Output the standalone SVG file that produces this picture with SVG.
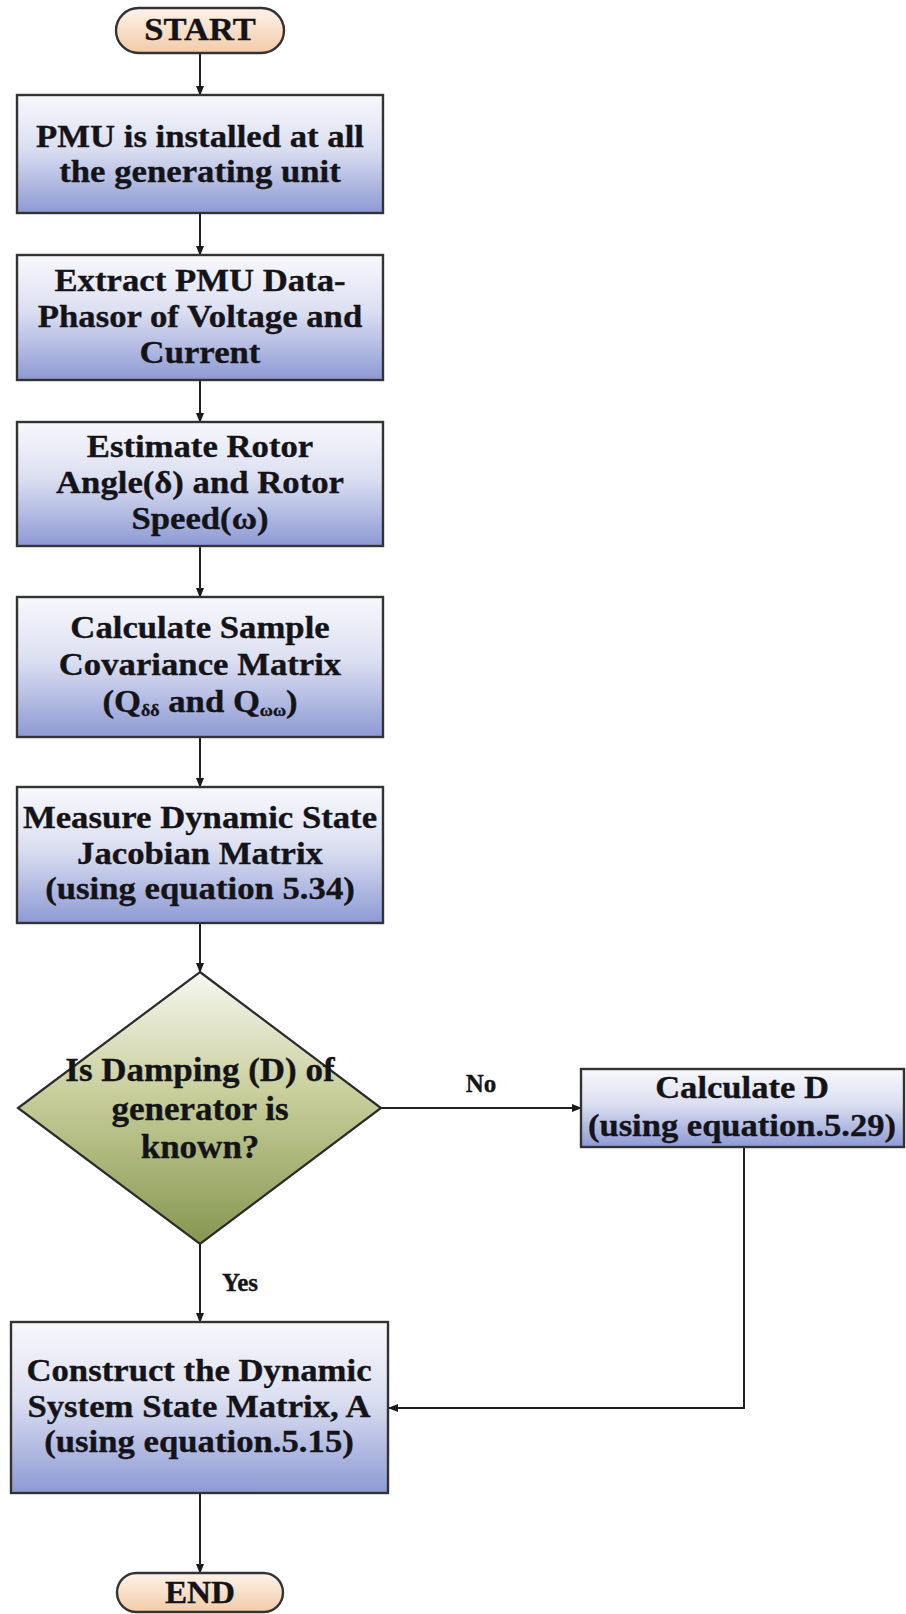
<svg xmlns="http://www.w3.org/2000/svg" width="906" height="1614" viewBox="0 0 906 1614">
  <defs>
    <linearGradient id="gBox" x1="0" y1="0" x2="0" y2="1">
      <stop offset="0" stop-color="#f8f8fc"/>
      <stop offset="0.45" stop-color="#dcdff1"/>
      <stop offset="1" stop-color="#8d9ad4"/>
    </linearGradient>
    <linearGradient id="gPill" x1="0" y1="0" x2="0" y2="1">
      <stop offset="0" stop-color="#fdf3ea"/>
      <stop offset="1" stop-color="#f3cba8"/>
    </linearGradient>
    <linearGradient id="gDiamond" x1="0" y1="0" x2="0" y2="1">
      <stop offset="0" stop-color="#f6f7f0"/>
      <stop offset="0.45" stop-color="#c8ce9b"/>
      <stop offset="1" stop-color="#869751"/>
    </linearGradient>
    <marker id="arrow" markerUnits="userSpaceOnUse" markerWidth="10" markerHeight="8" refX="9" refY="4" orient="auto">
      <path d="M0,0 L10,4 L0,8 z" fill="#1a1a1a"/>
    </marker>
  </defs>
  <style>
    .box { fill: url(#gBox); stroke: #333; stroke-width: 2.4; }
    .pill { fill: url(#gPill); stroke: #333; stroke-width: 2.4; }
    .dia { fill: url(#gDiamond); stroke: #2a2a2a; stroke-width: 2.2; }
    .t { font-family: "Liberation Serif", "Times New Roman", serif; font-weight: bold; fill: #141418; stroke: #141418; stroke-width: 0.35; text-anchor: middle; }
    .bx { font-size: 31px; }
    .cd { font-size: 34px; }
    .cd2 { font-size: 32px; }
    .lbl { font-size: 25px; }
    .sub { font-size: 16px; }
    .edge { fill: none; stroke: #1f1f1f; stroke-width: 2; marker-end: url(#arrow); }
  </style>
  <rect width="906" height="1614" fill="#ffffff"/>

  <!-- connectors -->
  <g id="connectors">
    <line class="edge" x1="200" y1="53" x2="200" y2="95"/>
    <line class="edge" x1="200" y1="213" x2="200" y2="255"/>
    <line class="edge" x1="200" y1="380" x2="200" y2="422"/>
    <line class="edge" x1="200" y1="546" x2="200" y2="597"/>
    <line class="edge" x1="200" y1="737" x2="200" y2="787"/>
    <line class="edge" x1="200" y1="923" x2="200" y2="972"/>
    <line class="edge" x1="381" y1="1108" x2="581" y2="1108"/>
    <line class="edge" x1="200" y1="1244" x2="200" y2="1322"/>
    <polyline class="edge" points="744,1147 744,1408 389,1408"/>
    <line class="edge" x1="200" y1="1493" x2="200" y2="1573"/>
    <text class="t lbl" x="481" y="1092">No</text>
    <text class="t lbl" x="240" y="1291">Yes</text>
  </g>

  <!-- START terminator -->
  <g id="start">
    <rect class="pill" x="116" y="8" width="168" height="45" rx="22.5"/>
    <g transform="translate(200 0) scale(1.08 1)">
      <text class="t" style="font-size:32px" x="0" y="40">START</text>
    </g>
  </g>

  <!-- step 1 -->
  <g id="pmu-install">
    <rect class="box" x="17" y="95" width="366" height="118"/>
    <g transform="translate(200 0) scale(1.12 1)">
      <text class="t bx" x="0" y="147">PMU is installed at all</text>
      <text class="t bx" x="0" y="182">the generating unit</text>
    </g>
  </g>

  <!-- step 2 -->
  <g id="extract-data">
    <rect class="box" x="17" y="255" width="366" height="125"/>
    <g transform="translate(200 0) scale(1.12 1)">
      <text class="t bx" x="0" y="291">Extract PMU Data-</text>
      <text class="t bx" x="0" y="327">Phasor of Voltage and</text>
      <text class="t bx" x="0" y="363">Current</text>
    </g>
  </g>

  <!-- step 3 -->
  <g id="estimate-rotor">
    <rect class="box" x="17" y="422" width="366" height="124"/>
    <g transform="translate(200 0) scale(1.12 1)">
      <text class="t bx" x="0" y="457">Estimate Rotor</text>
      <text class="t bx" x="0" y="493">Angle(δ) and Rotor</text>
      <text class="t bx" x="0" y="529">Speed(ω)</text>
    </g>
  </g>

  <!-- step 4 -->
  <g id="covariance">
    <rect class="box" x="17" y="597" width="366" height="140"/>
    <g transform="translate(200 0) scale(1.12 1)">
      <text class="t bx" x="0" y="638">Calculate Sample</text>
      <text class="t bx" x="0" y="675">Covariance Matrix</text>
      <text class="t bx" x="0" y="712">(Q<tspan class="sub" dy="4">δδ</tspan><tspan dy="-4"> and Q</tspan><tspan class="sub" dy="4">ωω</tspan><tspan dy="-4">)</tspan></text>
    </g>
  </g>

  <!-- step 5 -->
  <g id="jacobian">
    <rect class="box" x="17" y="787" width="366" height="136"/>
    <g transform="translate(200 0) scale(1.12 1)">
      <text class="t bx" x="0" y="828">Measure Dynamic State</text>
      <text class="t bx" x="0" y="864">Jacobian Matrix</text>
      <text class="t bx" x="0" y="899">(using equation 5.34)</text>
    </g>
  </g>

  <!-- decision -->
  <g id="damping-known">
    <polygon class="dia" points="200,972 381,1108 200,1244 18,1108"/>
    <g transform="translate(200 0) scale(1.03 1)">
      <text class="t cd" x="0" y="1081">Is Damping (D) of</text>
      <text class="t cd" x="0" y="1120">generator is</text>
      <text class="t cd" x="0" y="1158">known?</text>
    </g>
  </g>

  <!-- side step -->
  <g id="calculate-d">
    <rect class="box" x="581" y="1069" width="323" height="78"/>
    <g transform="translate(742 0) scale(1.08 1)">
      <text class="t cd2" x="0" y="1098">Calculate D</text>
      <text class="t cd2" x="0" y="1136">(using equation.5.29)</text>
    </g>
  </g>

  <!-- step 6 -->
  <g id="state-matrix">
    <rect class="box" x="11" y="1322" width="377" height="171"/>
    <g transform="translate(199 0) scale(1.12 1)">
      <text class="t bx" x="0" y="1381">Construct the Dynamic</text>
      <text class="t bx" x="0" y="1417">System State Matrix, A</text>
      <text class="t bx" x="0" y="1452">(using equation.5.15)</text>
    </g>
  </g>

  <!-- END terminator -->
  <g id="end">
    <rect class="pill" x="117" y="1573" width="166" height="39" rx="19.5"/>
    <g transform="translate(200 0) scale(1.07 1)">
      <text class="t" style="font-size:31px" x="0" y="1603">END</text>
    </g>
  </g>
</svg>
